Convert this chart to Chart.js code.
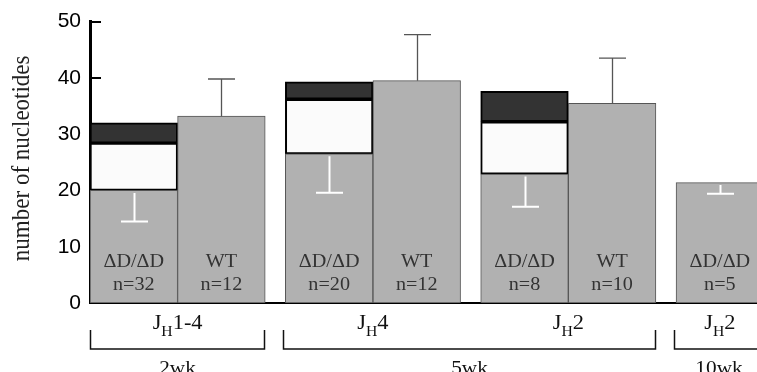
<!DOCTYPE html>
<html>
<head>
<meta charset="utf-8">
<script src="https://cdn.jsdelivr.net/npm/chart.js@4.4.1/dist/chart.umd.min.js"></script>
<style>
  html, body { margin: 0; padding: 0; background: #fff; }
</style>
</head>
<body>
<canvas id="nucChart" width="757" height="372"></canvas>
<script>
// data
const genotypes = ["ΔD/ΔD", "WT", "ΔD/ΔD", "WT", "ΔD/ΔD", "WT", "ΔD/ΔD"];
const nCounts = [32, 12, 20, 12, 8, 10, 5];
const groupOfBar = [0, 0, 1, 1, 2, 2, 3];
const graySeg = [20, 33.2, 26.5, 39.5, 22.9, 35.5, 21.4];
const whiteSeg = [8.4, null, 9.7, null, 9.3, null, null];
const darkSeg = [3.6, null, 3.1, null, 5.4, null, null];
const errorEnd = [14.5, 39.8, 19.6, 47.7, 17.1, 43.5, 19.4];
const jhSuffix = ["1-4", "4", "2", "2"];
const ageLabels = ["2wk", "5wk", "10wk"];
const ageFirstBar = [0, 2, 6];
const ageLastBar = [1, 5, 6];
const yTicks = [0, 10, 20, 30, 40, 50];

const GAP = 0.23; // space between groups, in bar widths
const xPos = genotypes.map((g, i) => i + GAP * groupOfBar[i]);
const SX = 1.12; // the serif text in the figure is a little wide

function wideText(ctx, text, x, y, align) {
  ctx.save();
  ctx.translate(x, y);
  ctx.scale(SX, 1);
  ctx.textAlign = align || "center";
  ctx.fillText(text, 0, 0);
  ctx.restore();
}

const overlay = {
  id: "overlay",
  beforeDatasetsDraw(chart) {
    // inward tick marks on the y axis
    const { ctx, scales: { y } } = chart;
    ctx.save();
    ctx.strokeStyle = "#000";
    ctx.lineWidth = 2;
    yTicks.forEach(function (v) {
      const py = Math.round(y.getPixelForValue(v));
      ctx.beginPath();
      ctx.moveTo(chart.chartArea.left, py);
      ctx.lineTo(chart.chartArea.left + 11, py);
      ctx.stroke();
    });
    ctx.restore();
  },
  afterDatasetsDraw(chart) {
    const { ctx, scales: { x, y } } = chart;
    const y0 = y.getPixelForValue(0);
    ctx.save();
    // error bars
    for (let i = 0; i < genotypes.length; i++) {
      const cx = Math.round(x.getPixelForValue(xPos[i])) + 0.5;
      const top = y.getPixelForValue(graySeg[i]);
      const end = y.getPixelForValue(errorEnd[i]);
      ctx.beginPath();
      if (genotypes[i] == "WT") {
        ctx.strokeStyle = "#555";
        ctx.lineWidth = 1.3;
        ctx.moveTo(cx, top);
      } else {
        ctx.strokeStyle = "#fff";
        ctx.lineWidth = 2;
        ctx.moveTo(cx, top + 2.5);
      }
      ctx.lineTo(cx, end);
      ctx.moveTo(cx - 13.5, end);
      ctx.lineTo(cx + 13.5, end);
      ctx.stroke();
    }
    // labels inside the bars
    ctx.fillStyle = "#333";
    ctx.font = "18px 'Liberation Serif'";
    for (let i = 0; i < genotypes.length; i++) {
      const cx = x.getPixelForValue(xPos[i]);
      wideText(ctx, genotypes[i], cx, y0 - 36.5);
      wideText(ctx, "n=" + nCounts[i], cx, y0 - 13.3);
    }
    ctx.restore();
  },
  afterDraw(chart) {
    const { ctx, scales: { x, y } } = chart;
    const half = (x.getPixelForValue(1) - x.getPixelForValue(0)) / 2;
    ctx.save();
    ctx.fillStyle = "#111";

    // J_H labels under each group
    jhSuffix.forEach(function (suffix, g) {
      const bars = xPos.filter((v, i) => groupOfBar[i] == g);
      const cx = (x.getPixelForValue(bars[0]) + x.getPixelForValue(bars[bars.length - 1])) / 2;
      ctx.font = "20px 'Liberation Serif'";
      const wJ = ctx.measureText("J").width;
      const wR = ctx.measureText(suffix).width;
      ctx.font = "14px 'Liberation Serif'";
      const wH = ctx.measureText("H").width;
      let sx = cx - ((wJ + wH + wR) * SX) / 2;
      ctx.font = "20px 'Liberation Serif'";
      wideText(ctx, "J", sx, 329, "left");
      ctx.font = "14px 'Liberation Serif'";
      wideText(ctx, "H", sx + wJ * SX, 336, "left");
      ctx.font = "20px 'Liberation Serif'";
      wideText(ctx, suffix, sx + (wJ + wH) * SX, 329, "left");
    });

    // age brackets
    ctx.strokeStyle = "#111";
    ctx.lineWidth = 1.5;
    ageLabels.forEach(function (lab, k) {
      const left = Math.round(x.getPixelForValue(xPos[ageFirstBar[k]]) - half - (k > 0 ? 2 : 0)) + 0.5;
      const right = Math.round(x.getPixelForValue(xPos[ageLastBar[k]]) + half) - 0.5;
      ctx.beginPath();
      ctx.moveTo(left, 330);
      ctx.lineTo(left, 349);
      ctx.lineTo(right, 349);
      ctx.lineTo(right, 330);
      ctx.stroke();
      ctx.font = "19px 'Liberation Serif'";
      wideText(ctx, lab, (left + right) / 2, 374);
    });

    // y axis title
    ctx.save();
    ctx.translate(22, (chart.chartArea.top + chart.chartArea.bottom) / 2 - 4);
    ctx.rotate(-Math.PI / 2);
    ctx.scale(1, SX);
    ctx.font = "23px 'Liberation Serif'";
    ctx.fillStyle = "#222";
    ctx.textAlign = "center";
    ctx.textBaseline = "middle";
    ctx.fillText("number of nucleotides", 0, 0);
    ctx.restore();

    ctx.restore();
  },
};

const ctx = document.getElementById("nucChart").getContext("2d");

const nucChart = new Chart(ctx, {
  type: "bar",
  data: {
    datasets: [
      {
        label: "total",
        data: xPos.map((v, i) => ({ x: v, y: graySeg[i] })),
        backgroundColor: "#b1b1b1",
        borderColor: "#555",
        borderWidth: 1,
        borderSkipped: false,
      },
      {
        label: "middle",
        data: xPos.map((v, i) => ({ x: v, y: whiteSeg[i] })),
        backgroundColor: "#fbfbfb",
        borderColor: "#000",
        borderWidth: 2,
        borderSkipped: false,
      },
      {
        label: "top",
        data: xPos.map((v, i) => ({ x: v, y: darkSeg[i] })),
        backgroundColor: "#333",
        borderColor: "#000",
        borderWidth: 2,
        borderSkipped: false,
      },
    ],
  },
  options: {
    responsive: false,
    animation: false,
    devicePixelRatio: 1,
    grouped: false,
    barPercentage: 1,
    categoryPercentage: 1,
    layout: {
      padding: { top: 16, left: 0, right: 0, bottom: 0 },
    },
    scales: {
      x: {
        type: "linear",
        min: -0.5,
        max: 7.114,
        offset: false,
        ticks: { display: false, count: 2 },
        grid: { display: false, drawTicks: false },
        border: { display: true, color: "#000", width: 2 },
        afterFit(scale) {
          scale.height = 69;
        },
      },
      y: {
        stacked: true,
        min: 0,
        max: 50,
        ticks: {
          stepSize: 10,
          color: "#000",
          padding: 9,
          font: { family: "Liberation Sans", size: 21 },
        },
        grid: { display: false, drawTicks: false },
        border: { display: true, color: "#000", width: 3 },
        afterFit(scale) {
          scale.width = 90;
        },
      },
    },
    plugins: {
      legend: { display: false },
      tooltip: { enabled: false },
    },
  },
  plugins: [overlay],
});
</script>
</body>
</html>
